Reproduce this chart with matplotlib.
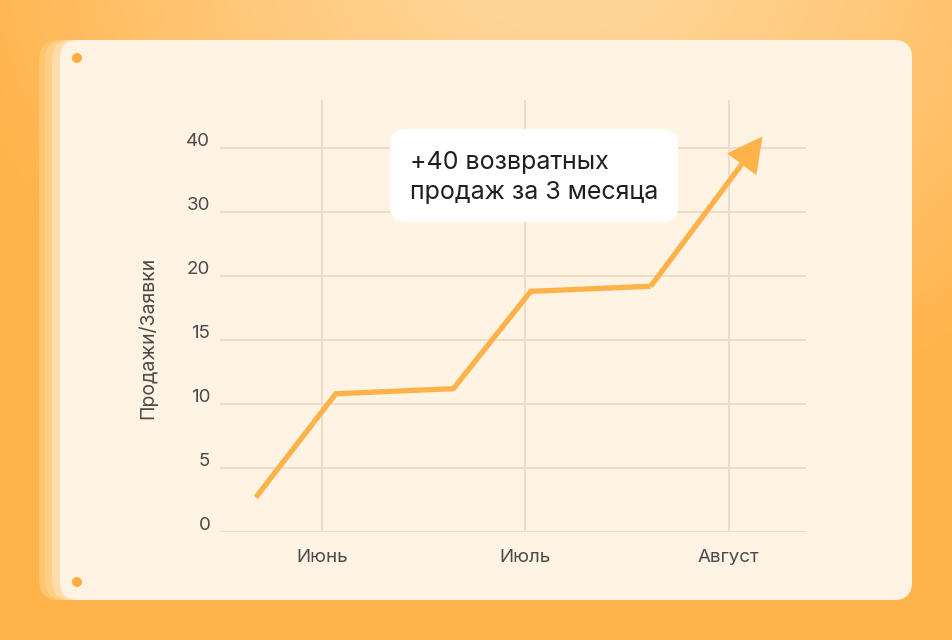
import numpy as np
import matplotlib
matplotlib.use("Agg")
import matplotlib.pyplot as plt
from matplotlib.patches import FancyBboxPatch, Circle
from matplotlib.scale import FuncScale
from matplotlib.transforms import ScaledTranslation

plt.rcParams['font.family'] = ['Inter', 'DejaVu Sans']

# ---- data ----
months = ["Июнь", "Июль", "Август"]
month_pos = [1, 2, 3]
x_vals = [0.676, 1.069, 1.647, 2.027, 2.617]
y_vals = [2.7, 10.8, 11.2, 18.8, 19.2]
arrow_tip = (3.166, 41.8)
y_ticks = [0, 5, 10, 15, 20, 30, 40]
y_labels = ["0", "5", "10", "15", "20", "30", "40"]
ylabel = "Продажи/Заявки"
callout = ["+40 возвратных", "продаж за 3 месяца"]

ORANGE = "#FFB24A"
CARD = "#FFF3E3"
GRID = "#ECDDCA"
TXT = "#4A4A4A"

W, H = 952, 640
fig = plt.figure(figsize=(W / 100, H / 100), dpi=100)

# ---- background gradient ----
bg = fig.add_axes([0, 0, 1, 1], zorder=0)
yy, xx = np.mgrid[0:H, 0:W]
d = np.sqrt(((xx - 560) / 620.0) ** 2 + ((yy + 60) / 520.0) ** 2)
t = np.clip(d, 0, 1) ** 1.3
c0 = np.array([255, 216, 157]) / 255.0
c1 = np.array([255, 179, 74]) / 255.0
img = c0[None, None, :] * (1 - t[..., None]) + c1[None, None, :] * t[..., None]
bg.imshow(img, extent=(0, W, H, 0), aspect='auto', interpolation='bilinear')
bg.set_xlim(0, W)
bg.set_ylim(H, 0)
bg.axis('off')

# stacked cards
for x0, col in [(39, "#FFC571"), (45, "#FFCF88"), (52, "#FFDDAA")]:
    bg.add_patch(FancyBboxPatch((x0, 40), 912 - x0, 560,
                                boxstyle="round,pad=0,rounding_size=20",
                                fc=col, ec='none'))
bg.add_patch(FancyBboxPatch((60, 40), 852, 560,
                            boxstyle="round,pad=0,rounding_size=18",
                            fc=CARD, ec='none'))
for cy in (58, 582):
    bg.add_patch(Circle((77, cy), 5, fc="#FFAE3E", ec='none'))

# ---- main chart ----
ax = fig.add_axes([220 / W, (H - 532) / H, 586 / W, 432 / H], zorder=2)
ax.patch.set_alpha(0)

tp = np.arange(len(y_ticks), dtype=float)
tv = np.array(y_ticks, dtype=float)


def fwd(v):
    v = np.asarray(v, dtype=float)
    out = np.interp(v, tv, tp)
    out = np.where(v > tv[-1], tp[-1] + (v - tv[-1]) / 10.0, out)
    out = np.where(v < 0, v / 5.0, out)
    return out


def inv(p):
    p = np.asarray(p, dtype=float)
    out = np.interp(p, tp, tv)
    out = np.where(p > tp[-1], tv[-1] + (p - tp[-1]) * 10.0, out)
    out = np.where(p < 0, p * 5.0, out)
    return out


ax.set_yscale(FuncScale(ax.yaxis, (fwd, inv)))
ax.set_ylim(0, inv(6.75))
ax.set_xlim(0.5, 3.38)

ax.set_yticks(y_ticks)
ax.set_yticklabels(y_labels)
ax.yaxis.set_minor_locator(matplotlib.ticker.NullLocator())
ax.set_xticks(month_pos)
ax.set_xticklabels(months)
ax.tick_params(axis='both', length=0, labelsize=13.5, colors=TXT)
ax.tick_params(axis='y', pad=7)
ax.tick_params(axis='x', pad=12)
shift = ScaledTranslation(0, 8 / 100, fig.dpi_scale_trans)
for lab in ax.get_yticklabels():
    lab.set_transform(lab.get_transform() + shift)
for s in ax.spines.values():
    s.set_visible(False)
ax.grid(True, color=GRID, lw=1.5, zorder=0)
ax.set_axisbelow(True)

ax.set_ylabel(ylabel, fontsize=14, color=TXT, va='center')
ax.yaxis.set_label_coords(-0.123, 0.449)

ax.plot(x_vals, y_vals, color=ORANGE, lw=3.8, solid_capstyle='butt',
        solid_joinstyle='miter', zorder=3)
ax.annotate('', xy=arrow_tip, xytext=(x_vals[-1], y_vals[-1]),
            arrowprops=dict(arrowstyle='-|>,head_length=0.95,head_width=0.5',
                            mutation_scale=20, color=ORANGE, lw=3.8,
                            shrinkA=0, shrinkB=0, joinstyle='miter',
                            capstyle='butt'),
            zorder=3)

# callout box (in pixel space of background axes)
box = FancyBboxPatch((390, 129), 288, 93,
                     boxstyle="round,pad=0,rounding_size=16",
                     fc="white", ec='none', transform=bg.transData, zorder=4)
ax.add_patch(box)
ax.text(410, 162, callout[0], transform=bg.transData, fontsize=18,
        color="#1F1F1F", ha='left', va='center', zorder=5)
ax.text(410, 193, callout[1], transform=bg.transData, fontsize=18,
        color="#1F1F1F", ha='left', va='center', zorder=5)

fig.savefig("out.png", dpi=100)
